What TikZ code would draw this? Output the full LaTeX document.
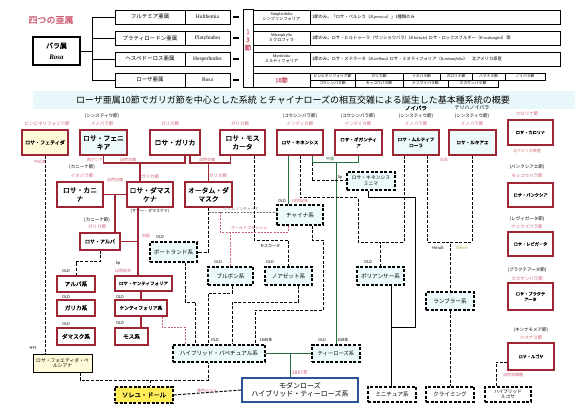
\documentclass[tikz,border=0pt]{standalone}
\usepackage{fontspec}
\setmainfont{Noto Sans CJK JP}[BoldFont=Noto Sans CJK JP,BoldFeatures={FakeBold=1.2},ItalicFont=Noto Sans CJK JP,ItalicFeatures={FakeSlant=0.2}]
\newfontfamily\latin{Liberation Serif}
\definecolor{rosered}{RGB}{158,38,52}
\definecolor{labred}{RGB}{205,95,115}
\definecolor{cyanfill}{RGB}{236,250,252}
\definecolor{yelfill}{RGB}{255,250,215}
\definecolor{soleilfill}{RGB}{255,238,90}
\definecolor{treegreen}{RGB}{40,110,65}
\definecolor{modernblue}{RGB}{45,85,150}
\definecolor{titleband}{RGB}{232,247,250}
\tikzset{wh/.style 2 args={minimum width=#1pt,minimum height=#2pt}}

\begin{document}
\begin{tikzpicture}[x=1pt,y=-1pt,
  rbox/.style={draw=rosered,line width=1.3pt,fill=white,align=center,inner sep=.5pt,
    font=\fontsize{6.8}{8.5}\selectfont\bfseries},
  rsmall/.style={rbox,font=\fontsize{4.6}{6}\selectfont\bfseries},
  kei/.style={rbox,font=\fontsize{5.6}{6.5}\selectfont\bfseries},
  dbox/.style={draw,dashed,dash pattern=on 3pt off 1.6pt,line width=1.1pt,fill=cyanfill,
    align=center,inner sep=.5pt,font=\fontsize{5.6}{6.5}\selectfont},
  cell/.style={draw,line width=.8pt,fill=white,inner sep=.5pt,font=\fontsize{5.5}{6.5}\selectfont},
  smalltxt/.style={inner sep=0pt,font=\fontsize{4}{4.8}\selectfont},
  sect/.style={inner sep=0pt,font=\fontsize{4.5}{5}\selectfont},
  rsect/.style={sect,text=labred},
  redln/.style={rosered,line width=1.2pt},
  grnln/.style={treegreen,line width=1pt},
  blkln/.style={black,line width=1pt},
  dashln/.style={black,line width=1pt,dash pattern=on 3pt off 1.6pt},
  greyln/.style={black!55,line width=.8pt,dash pattern=on 2pt off 1.2pt},
  pinkln/.style={labred,line width=.8pt,dash pattern=on 2pt off 1.2pt}
]
  \useasboundingbox[fill=white] (0,0) rectangle (586,414);

  % the four subgenera
  \node[text=labred,font=\fontsize{9}{10}\selectfont\bfseries] (head) at (51,20) {四つの亜属};
  \node[cell,wh={47}{28},line width=1.2pt,align=center,font=\fontsize{7}{11}\selectfont\bfseries]
    (rosa) at (56.5,51) {バラ属\\{\latin\itshape Rosa}};
  \coordinate (bus) at (92,51);
  \foreach \n/\y/\ja/\la in {1/17/フルテミア亜属/Hulthemia,2/38/プラティロードン亜属/Platyhodon,
      3/59/ヘスペドーロス亜属/Hesperhodos,4/80/ローザ亜属/Rosa}{
    \node[cell,wh={70}{14}] (sg\n) at (150,\y) {\ja};
    \node[cell,wh={45}{14},font=\latin\fontsize{5.5}{6}\selectfont] (sl\n) at (207.5,\y) {\la};
    \draw[line width=1.6pt] ([xshift=3pt]sl\n.east) -- ++(6,0);
    \draw (bus |- sg\n.west) -- (sg\n.west);
  }
  \draw (rosa.east) -- (bus);
  \draw (bus |- sg1.west) -- (bus |- sg4.west);

  \node[cell,wh={10}{78}] (sec13) at (248,48) {};
  \node[text=labred,align=center,font=\fontsize{6.5}{8}\selectfont\bfseries] (sec13txt) at (248,40) {1\\3\\節};
  \node[cell,wh={57}{14},align=center,font=\fontsize{4.2}{5}\selectfont] (ss1) at (281.5,17)
    {{\latin Simplicifolia}\\シンプリシフォリア};
  \node[cell,wh={57}{14},align=center,font=\fontsize{4.2}{5}\selectfont] (ss2) at (281.5,38)
    {{\latin Microphylla}\\ミクロフィラ};
  \node[cell,wh={57}{14},align=center,font=\fontsize{4.2}{5}\selectfont] (ss3) at (281.5,59)
    {{\latin Myrtifolia}\\ミルティフォリア};
  \node[cell,wh={57}{14},text=labred,font=\fontsize{6}{7}\selectfont\bfseries] (ss4) at (281.5,80) {10節};

  \node[cell,wh={250}{14},align=left,text width=246pt,font=\fontsize{4.3}{5}\selectfont] (ds1) at (435,17)
    {1節のみ。「ロサ・ペルシカ（{\latin\itshape R.persica}）」1種類のみ};
  \node[cell,wh={250}{14},align=left,text width=246pt,font=\fontsize{4.3}{5}\selectfont] (ds2) at (435,38)
    {1節のみ。ロサ・ヒルトゥーラ（サンショウバラ）({\latin\itshape R.hirtula}) ロサ・ロックスブルギー（{\latin\itshape R.roxburghii}）等};
  \node[cell,wh={250}{14},align=left,text width=246pt,font=\fontsize{4.3}{5}\selectfont] (ds3) at (435,59)
    {1節のみ。ロサ・ステラータ（{\latin\itshape R.stellata}) ロサ・ミヌティフォリア（{\latin\itshape R.minutifolia}）\quad 北アメリカ原産};
  \foreach \a/\b/\t [count=\i] in {310/355/ピンピネリフォリア節,355/403/ガリカ節,403/440/イヌバラ節,
      440/472/カロリナ節,472/505/ハマナス節,505/545/ノイバラ節}
    \node[cell,line width=.6pt,font=\fontsize{3.8}{4}\selectfont,minimum width={(\b-\a)*1pt},minimum height=7pt]
      (tc\i) at ({(\a+\b)/2},76.5) {\t};
  \foreach \a/\b/\t [count=\i] in {310/355/コウシンバラ節,355/403/モッコウバラ節,403/448/ナニワイバラ節,
      448/498/カカヤンバラ節}
    \node[cell,line width=.6pt,font=\fontsize{3.8}{4}\selectfont,minimum width={(\b-\a)*1pt},minimum height=7pt]
      (bc\i) at ({(\a+\b)/2},83.5) {\t};

  % title
  \fill[titleband] (33,91) rectangle (575,109);
  \node[font=\fontsize{9}{10}\selectfont] (title) at (293,100)
    {ローザ亜属10節でガリガ節を中心とした系統 とチャイナローズの相互交雑による誕生した基本種系統の概要};

  % wild species
  \node[rbox,wh={46}{25},fill=yelfill,font=\fontsize{5}{6}\selectfont\bfseries] (fetida) at (45,142.5) {ロサ・フェティダ};
  \node[rbox,wh={47}{25},fill=cyanfill] (phoenicia) at (103.5,142.5) {ロサ・フェニ\\キア};
  \node[rbox,wh={50}{25}] (gallica) at (175,142.5) {ロサ・ガリカ};
  \node[rbox,wh={45}{25}] (moschata) at (242.5,142.5) {ロサ・モス\\カータ};
  \node[rsmall,wh={46}{25}] (chinensis) at (300,142.5) {ロサ・キネンシス};
  \node[rsmall,wh={47}{25}] (gigantea) at (358.5,142.5) {ロサ・ギガンティ\\ア};
  \node[rsmall,wh={46}{25},fill=cyanfill] (multiflora) at (416,142.5) {ロサ・ムルティフ\\ローラ};
  \node[rsmall,wh={47}{25},fill=cyanfill] (luciae) at (472.5,142.5) {ロサ・ルキアエ};
  \node[rsmall,wh={45}{25},font=\fontsize{4.2}{5.5}\selectfont\bfseries] (carolina) at (530.5,132.5) {ロサ・カロリナ};
  \node[rsmall,wh={45}{24},font=\fontsize{4.2}{5.5}\selectfont\bfseries] (banksiae) at (530.5,195) {ロサ・バンクシア};
  \node[rsmall,wh={45}{24},font=\fontsize{4.2}{5.5}\selectfont\bfseries] (laevigata) at (530.5,244) {ロサ・レビガータ};
  \node[rsmall,wh={45}{27},font=\fontsize{4.2}{5.5}\selectfont\bfseries] (bracteata) at (530.5,296.5) {ロサ・ブラクテ\\アータ};
  \node[rsmall,wh={46}{27},font=\fontsize{4.2}{5.5}\selectfont\bfseries] (rugosa) at (531,356.5) {ロサ・ルゴサ};
  \node[rbox,wh={46}{25}] (canina) at (80,194.5) {ロサ・カニ\\ナ};
  \node[rbox,wh={46}{25}] (damascena) at (150,194.5) {ロサ・ダマス\\ケナ};
  \node[rbox,wh={47}{25}] (autumn) at (208.5,194.5) {オータム・ダ\\マスク};
  \node[rbox,wh={40}{17},font=\fontsize{5}{6}\selectfont\bfseries] (alba) at (100,241.5) {ロサ・アルバ};
  \node[rbox,wh={57}{15},font=\fontsize{4.5}{5}\selectfont\bfseries] (centifolia) at (143.5,283.5) {ロサ・ケンティフォリア};

  % old rose classes
  \node[kei,wh={38}{16}] (albakei) at (76,284) {アルバ系};
  \node[kei,wh={38}{16}] (gallicakei) at (76,308) {ガリカ系};
  \node[kei,wh={38}{17}] (damaskkei) at (76,336.5) {ダマスク系};
  \node[kei,wh={52}{16},font=\fontsize{4.8}{5.5}\selectfont\bfseries] (centikei) at (141,308) {ケンティフォリア系};
  \node[kei,wh={33}{17}] (mosskei) at (131.5,336.5) {モス系};
  \node[dbox,wh={47}{20}] (portland) at (173.5,252) {ポートランド系};
  \node[dbox,wh={46}{20}] (china) at (300,215) {チャイナ系};
  \node[dbox,wh={45}{18}] (bourbon) at (230.5,276) {ブルボン系};
  \node[dbox,wh={47}{18}] (noisette) at (288.5,276) {ノアゼット系};
  \node[dbox,wh={47}{18}] (polyantha) at (380.5,276) {ポリアンサー系};
  \node[dbox,wh={48}{18},font=\fontsize{4.8}{5.8}\selectfont] (minima) at (371,181) {ロサ・キネンシス\\ミニマ};
  \node[dbox,wh={48}{18}] (rambler) at (450,301) {ランブラー系};
  \node[dbox,wh={92}{17}] (hp) at (219,353.5) {ハイブリッド・パペチュアル系};
  \node[dbox,wh={48}{17},font=\fontsize{5.3}{6}\selectfont] (tea) at (336,353.5) {ティーローズ系};
  \node[dbox,wh={48}{15},fill=white] (miniature) at (392,394.5) {ミニチュア系};
  \node[dbox,wh={48}{15},fill=white] (climbing) at (450,394.5) {クライミング};
  \node[dbox,wh={46}{15},fill=white,font=\fontsize{4.6}{5.2}\selectfont] (hybrugosa) at (508,394.5) {ハイブリッド\\ルゴサ};
  \node[draw,line width=1pt,fill=yelfill,align=center,inner sep=.5pt,wh={59}{18},
    font=\fontsize{4.8}{5.8}\selectfont] (persiana) at (62.5,363) {ロサ・フォエティダ・ペ\\ルシアナ};
  \node[dbox,wh={58}{16},fill=soleilfill,line width=1.3pt,font=\fontsize{6.3}{7}\selectfont\bfseries]
    (soleil) at (144,395) {ソレユ・ドール};
  \node[draw=modernblue,line width=1.4pt,fill=white,align=center,inner sep=.5pt,wh={116}{24},
    font=\fontsize{7}{8.2}\selectfont] (modern) at (300,390) {モダンローズ\\ハイブリッド・ティーローズ系};

  % section labels
  \node[rsect] (fetidaSec) at (47,124) {ピンピネリフォリア節};
  \node[sect] (phoeniciaSub) at (102,116) {(シンスティウ節)};
  \node[rsect] (phoeniciaSec) at (102,124) {イノバラ節};
  \node[rsect] (gallicaSec) at (170,124) {ガリカ節};
  \node[rsect] (moschataSec) at (240,124) {ガリカ節};
  \node[sect] (chinensisSub) at (300,116) {(コウシンバラ節)};
  \node[rsect] (chinensisSec) at (300,124) {インディカ節};
  \node[sect] (giganteaSub) at (358,116) {(コウシンバラ節)};
  \node[rsect] (giganteaSec) at (358,124) {インディカ節};
  \node[sect,font=\fontsize{5.5}{6}\selectfont\bfseries] (multifloraName) at (416,108) {ノイバラ};
  \node[sect] (multifloraSub) at (416,116) {(シンスティウ節)};
  \node[rsect] (multifloraSec) at (416,124) {イノバラ節};
  \node[sect,font=\fontsize{5}{6}\selectfont] (luciaeName) at (472,108) {テリハノイバラ};
  \node[sect] (luciaeSub) at (472,116) {(シンスティウ節)};
  \node[rsect] (luciaeSec) at (472,124) {イノバラ節};
  \node[rsect] (carolinaSec) at (527,114) {カロリナ節};
  \node[sect] (banksiaeSub) at (527,167) {(バンクシアエ節)};
  \node[rsect] (banksiaeSec) at (527,176) {モッコウバラ節};
  \node[sect] (laevigataSub) at (527,219) {(レヴィガータ節)};
  \node[rsect] (laevigataSec) at (527,227) {ナニワイバラ節};
  \node[sect] (bracteataSub) at (527,270) {(ブラクテアータ節)};
  \node[rsect] (bracteataSec) at (527,279) {カカヤンバラ節};
  \node[sect] (rugosaSub) at (531,330) {(キンナモメア節)};
  \node[rsect] (rugosaSec) at (531,338) {ハマナス節};
  \node[sect] (caninaSub) at (82,167) {(カニーナ節)};
  \node[rsect] (caninaSec) at (82,176) {イヌバラ節};
  \node[rsect] (damascenaSec) at (150,177) {ガリカ節};
  \node[rsect] (autumnSec) at (218,176) {ガリカ節};
  \node[sect] (albaSub) at (97,220) {(カニーナ節)};
  \node[rsect] (albaSec) at (97,227) {ガリカ節};

  % origins, dates and notes
  \node[smalltxt,text=labred] (nearEast) at (40,162) {中近東};
  \node[smalltxt,text=labred] (westAsia) at (95,160) {西アジア};
  \node[smalltxt,text=labred] (japan) at (444,160) {日本};
  \node[smalltxt,text=labred] (northAm) at (527,151) {北アメリカ原産};
  \node[smalltxt] (summer) at (150,211) {(サマー・ダマスケナ)};
  \node[smalltxt,text=labred] (natural1) at (128,160) {自然交雑};
  \node[smalltxt,text=labred] (natural2) at (207,160) {自然交雑};
  \node[smalltxt,text=labred] (natural3) at (115,180) {自然交雑};
  \node[smalltxt,text=labred] (cross) at (146,236) {交配};
  \node[smalltxt] (spCenti) at (118,263) {Sp};
  \node[smalltxt,text=labred] (c16) at (123,271) {16世紀末};
  \node[smalltxt] (oldAlba) at (66,271) {OLD};
  \node[smalltxt] (oldGallica) at (66,297) {OLD};
  \node[smalltxt] (oldDamask) at (66,324) {OLD};
  \node[smalltxt] (oldCenti) at (120,297) {OLD};
  \node[smalltxt] (oldMoss) at (120,323) {OLD};
  \node[smalltxt] (oldPortland) at (160,237) {OLD};
  \node[smalltxt] (oldChina) at (282,201) {OLD};
  \node[smalltxt,text=labred] (c18) at (300,201) {18世紀末};
  \node[smalltxt] (oldBourbon) at (218,262) {OLD};
  \node[smalltxt] (oldNoisette) at (270,262) {OLD};
  \node[smalltxt] (oldPoly) at (368,262) {OLD};
  \node[smalltxt] (oldHp) at (215,340) {OLD};
  \node[smalltxt] (y1840) at (266,340) {1840年};
  \node[smalltxt] (oldTea) at (322,340) {OLD};
  \node[smalltxt] (y1828) at (342,340) {1828年};
  \node[smalltxt,text=labred,font=\fontsize{5}{6}\selectfont] (y1867) at (300,373) {1867年};
  \node[smalltxt,text=treegreen] (chinaOrigin) at (330,159) {中国};
  \node[smalltxt] (spMinima) at (340,177) {Sp};
  \node[smalltxt] (moschLbl) at (270,246) {モスカータ};
  \node[smalltxt,text=black!55] (crimson) at (241,209) {クリムゾンチャイナ};
  \node[smalltxt,text=labred] (blush) at (249,228) {オールドブラッシュ};
  \node[smalltxt] (hmult) at (438,248) {Hmult};
  \node[smalltxt,text=yellow!60!black] (which) at (462,248) {Which};
  \node[smalltxt] (hft) at (33,348) {HFt};
  \node[smalltxt,text=labred] (yellowRose) at (207,391) {黄色のバラ};
  \node[smalltxt,text=labred] (rugosaHyb) at (513,375) {自然交雑種};

  % old european lineage
  \coordinate (j1) at (140,163);
  \coordinate (j2) at (208.5,163);
  \coordinate (j3) at (115,194.5);
  \coordinate (j5) at (138,241.5);
  \draw[redln] (phoenicia.south) |- (j1) -| ([xshift=10pt]gallica.south);
  \draw[redln] (j1) -- (j1 |- damascena.north);
  \draw[redln] ([xshift=15pt]gallica.south) |- (j2) -| ([xshift=-12pt]moschata.south);
  \draw[redln] (j2) -- (autumn.north);
  \draw[redln] (canina.east) -- (damascena.west);
  \draw[redln] (j3) -- (j3 |- alba.north);
  \draw[redln] (alba.east) -- (j5);
  \draw[redln] ([xshift=-12pt]damascena.south) -- (j5 |- centifolia.north);
  \draw[redln] (centikei.north |- centifolia.south) -- (centikei.north);
  \draw[redln] (centikei.south) -- (centikei.south |- mosskei.north);
  \draw[dashln] (fetida.south) -- (fetida.south |- persiana.north);
  \draw[dashln] (alba.south) -- ++(0,11) -| (albakei.north);

  % china crosses
  \coordinate (j6) at (185,327);
  \coordinate (j7) at (208.5,212);
  \coordinate (j8) at (220,212);
  \coordinate (j9) at (230.5,232);
  \coordinate (j10) at (288.5,240);
  \coordinate (j11) at (323,240);
  \coordinate (j12) at (255,310);
  \coordinate (j13) at (208,293);
  \coordinate (j14) at (232,302);
  \coordinate (j24) at (195,302);
  \draw[pinkln,rosered!70] ([xshift=21pt]centikei.south) |- (j6) -- (j6 |- hp.north);
  \draw[dashln] ([xshift=11.5pt]portland.south) |- (j24) -- (j24 |- hp.north);
  \draw[dashln] (autumn.south) |- (portland.east);
  \draw[greyln] (j7) -- (china.west |- j7);
  \draw[pinkln] (j8) -- (j8 |- j9) -| ([xshift=-11.5pt]china.south);
  \draw[pinkln] (j9) -- (bourbon.north);
  \draw[dashln] ([xshift=11.5pt]moschata.south) |- (j10) -- (noisette.north);
  \draw[dashln] ([xshift=12pt]china.south) |- (j11) |- (j12) -- (j12 |- hp.north);
  \draw[dashln] ([xshift=1.5pt]bourbon.south) |- (j13) -- (j13 |- hp.north);
  \draw[dashln] ([xshift=10pt]noisette.south) |- (j14) -- (j14 |- hp.north);

  % china and tea lineage
  \coordinate (j15) at (336,163);
  \coordinate (j16) at (290,353.5);
  \coordinate (j17) at (312,163);
  \coordinate (j18) at (358,198);
  \coordinate (j19) at (380.5,242);
  \draw[grnln] ([xshift=-12pt]chinensis.south) -- ([xshift=-12pt]china.north);
  \draw[grnln] ([xshift=12pt]chinensis.south) -- (j17) -| (gigantea.south);
  \draw[grnln] (j15) -- (tea.north);
  \draw[grnln] (hp.east) -- (tea.west);
  \draw[grnln] (j16) -- (j16 |- modern.north);
  \draw[dashln] (j17) |- (minima.west);
  \draw[dashln] (chinensis.south) |- (j18) |- (j19) -- (polyantha.north);

  % east asian climbers
  \coordinate (j20) at (450,242);
  \coordinate (j21) at (415,198);
  \coordinate (j22) at (391,327);
  \coordinate (j23) at (150,380);
  \draw[dashln] ([xshift=-12pt]multiflora.south) |- (j19);
  \draw[dashln] ([xshift=11pt]multiflora.south) |- (j20);
  \draw[dashln] (luciae.south) |- (j20) -- (rambler.north);
  \draw[dashln] (rambler.south) -- (climbing.north);
  \draw[blkln] ([xshift=-3pt]minima.south) |- (j21) |- (j22) -- (j22 |- miniature.north);
  \draw[blkln] (j22 |- polyantha.south) -- (j22);
  \draw[dashln] ([yshift=-5.5pt]rugosa.west) -| ([xshift=-12pt]hybrugosa.north);

  % yellow roses
  \draw[dashln] ([xshift=17.5pt]persiana.south) |- (j23) -| ([xshift=-11pt]hp.south);
  \draw[dashln] (j23) -- (j23 |- soleil.north);
  \draw[dashln] (soleil.east) -- (modern.west);
\end{tikzpicture}
\end{document}
